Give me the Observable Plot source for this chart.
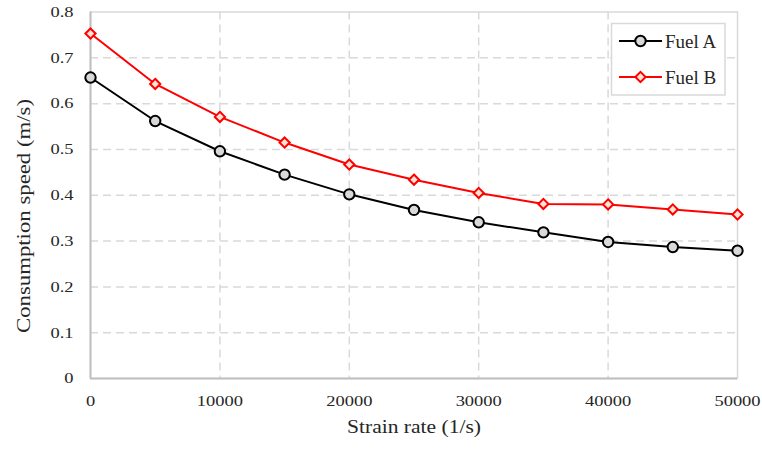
<!DOCTYPE html>
<html><head><meta charset="utf-8">
<script src="https://cdn.jsdelivr.net/npm/d3@7"></script>
<script src="https://cdn.jsdelivr.net/npm/@observablehq/plot@0.6"></script>
<style>body{margin:0;background:#fff} svg{display:block}</style>
</head><body><div id="chart"></div>
<script>
const strainRates = [0, 5000, 10000, 15000, 20000, 25000, 30000, 35000, 40000, 45000, 50000];
const fuelA = [0.657, 0.562, 0.496, 0.445, 0.402, 0.368, 0.341, 0.319, 0.298, 0.287, 0.279];
const fuelB = [0.753, 0.643, 0.571, 0.515, 0.467, 0.434, 0.405, 0.381, 0.380, 0.369, 0.358];
const seriesNames = ["Fuel A", "Fuel B"];
const seriesColors = ["#000000", "#ff0000"];
const yTicks = [0, 0.1, 0.2, 0.3, 0.4, 0.5, 0.6, 0.7, 0.8];
const xTicks = [0, 10000, 20000, 30000, 40000, 50000];
const xTitle = "Strain rate (1/s)";
const yTitle = "Consumption speed (m/s)";

const rowsA = strainRates.map((x, i) => ({x, y: fuelA[i], s: seriesNames[0]}));
const rowsB = strainRates.map((x, i) => ({x, y: fuelB[i], s: seriesNames[1]}));
const rows = rowsA.concat(rowsB);

const W = 762, H = 449;
const plot = Plot.plot({
  width: W, height: H,
  marginLeft: 90, marginRight: 25, marginTop: 11.5, marginBottom: 71,
  style: {fontFamily: "Liberation Serif", fontSize: "15px", color: "#262626", background: "white"},
  x: {domain: [0, 50000], ticks: xTicks, tickFormat: d => String(d), tickSize: 0, tickPadding: 17, label: null},
  y: {domain: [0, 0.8], ticks: yTicks, tickFormat: d => d === 0 ? "0" : d.toFixed(1), tickSize: 0, tickPadding: 17, label: null},
  color: {domain: seriesNames, range: seriesColors},
  marks: [
    Plot.ruleY(yTicks.slice(1, -1), {stroke: "#d9d9d9", strokeWidth: 1.5, strokeDasharray: "8,5"}),
    Plot.ruleX(xTicks.slice(1, -1), {stroke: "#d9d9d9", strokeWidth: 1.5, strokeDasharray: "8,5"}),
    Plot.frame({stroke: "#d9d9d9", strokeWidth: 1.5}),
    Plot.ruleY([0], {stroke: "#bfbfbf", strokeWidth: 2}),
    Plot.ruleX([0], {stroke: "#bfbfbf", strokeWidth: 2}),
    Plot.line(rows, {x: "x", y: "y", z: "s", stroke: "s", strokeWidth: 2}),
    Plot.dot(rowsA, {x: "x", y: "y", symbol: "circle", r: 5.2, stroke: "#000000", fill: "#d9d9d9", strokeWidth: 2}),
    Plot.dot(rowsB, {x: "x", y: "y", symbol: "diamond2", r: 4.6, stroke: "#ff0000", fill: "#fbe3d6", strokeWidth: 2})
  ]
});
document.getElementById("chart").append(plot);

const svg = d3.select(plot);
// slightly widened tick labels as in the reference
svg.selectAll("text").each(function() {
  const w = this.getComputedTextLength();
  if (w > 0) {
    this.setAttribute("textLength", (w * 1.23).toFixed(2));
    this.setAttribute("lengthAdjust", "spacingAndGlyphs");
  }
});

// axis titles
svg.append("text")
  .attr("x", 414).attr("y", 433)
  .attr("text-anchor", "middle")
  .attr("font-family", "Liberation Serif").attr("font-size", 19).attr("fill", "#262626")
  .attr("textLength", 134).attr("lengthAdjust", "spacingAndGlyphs")
  .text(xTitle);
svg.append("text")
  .attr("transform", "translate(23,216) rotate(-90)")
  .attr("text-anchor", "middle").attr("dominant-baseline", "central")
  .attr("font-family", "Liberation Serif").attr("font-size", 19).attr("fill", "#262626")
  .attr("textLength", 234).attr("lengthAdjust", "spacingAndGlyphs")
  .text(yTitle);

// legend
const lg = svg.append("g");
lg.append("rect").attr("x", 611.5).attr("y", 23.5).attr("width", 113.5).attr("height", 71.5)
  .attr("fill", "white").attr("stroke", "#d9d9d9").attr("stroke-width", 1.5);
const legendRows = [
  {name: seriesNames[0], color: seriesColors[0], fill: "#d9d9d9", sym: d3.symbolCircle, size: Math.PI * 5.2 * 5.2, cy: 41},
  {name: seriesNames[1], color: seriesColors[1], fill: "#fbe3d6", sym: d3.symbolDiamond2, size: Math.PI * 4.6 * 4.6, cy: 77}
];
legendRows.forEach(r => {
  lg.append("line").attr("x1", 619).attr("x2", 662).attr("y1", r.cy).attr("y2", r.cy)
    .attr("stroke", r.color).attr("stroke-width", 2);
  lg.append("path").attr("d", d3.symbol(r.sym, r.size)())
    .attr("transform", `translate(640.5,${r.cy})`)
    .attr("fill", r.fill).attr("stroke", r.color).attr("stroke-width", 2);
  lg.append("text").attr("x", 665).attr("y", r.cy + 6.5)
    .attr("text-anchor", "start")
    .attr("font-family", "Liberation Serif").attr("font-size", 19).attr("fill", "#262626")
    .text(r.name);
});
</script>
</body></html>
